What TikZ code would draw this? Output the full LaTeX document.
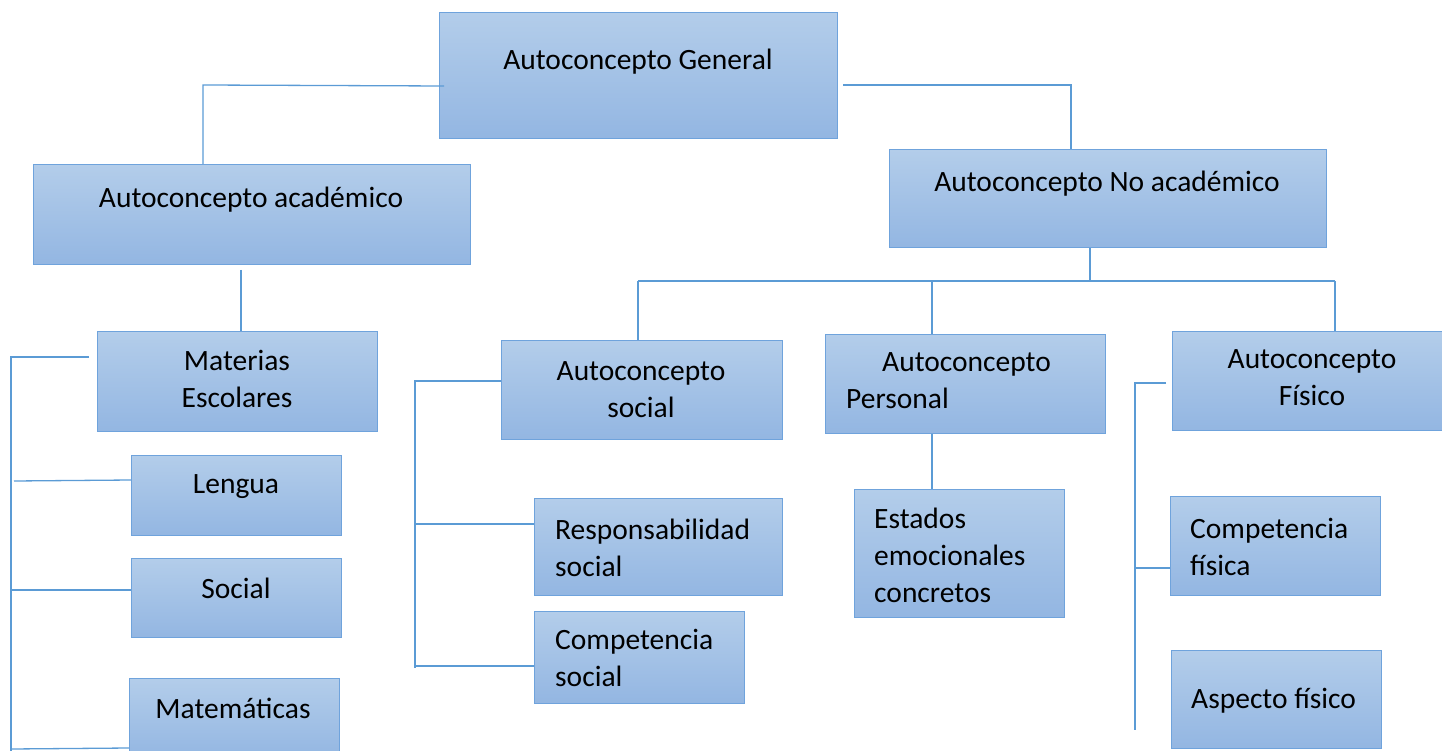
\documentclass[tikz,border=0pt]{standalone}
\usepackage{fontspec}
\setmainfont{Carlito}
\definecolor{linec}{HTML}{5B9BD5}
\definecolor{boxtop}{HTML}{B3CDEA}
\definecolor{boxbot}{HTML}{93B6E2}
\definecolor{boxedge}{HTML}{6FA3DC}
\begin{document}
\begin{tikzpicture}[x=1pt,y=-1pt,
  bx/.style={draw=boxedge,line width=1.4pt,top color=boxtop,bottom color=boxbot,
    rectangle,inner sep=0pt,anchor=north west},
  tx/.style={font=\fontsize{29.5}{37}\selectfont,inner sep=0pt,align=center},
  txl/.style={font=\fontsize{29.5}{37}\selectfont,inner sep=0pt,align=left,anchor=west},
  ln/.style={draw=linec,line width=1.3pt}]
\useasboundingbox (0,0) rectangle (1442,751);
% boxes
\node[bx,minimum width=398pt,minimum height=126pt] (gen) at (439,12) {};
\node[bx,minimum width=437pt,minimum height=100pt] (aca) at (33,164) {};
\node[bx,minimum width=437pt,minimum height=98pt] (noa) at (889,149) {};
\node[bx,minimum width=280pt,minimum height=100pt] (mat) at (97,331) {};
\node[bx,minimum width=210pt,minimum height=80pt] (len) at (131,455) {};
\node[bx,minimum width=210pt,minimum height=79pt] (soc) at (131,558) {};
\node[bx,minimum width=210pt,minimum height=80pt] (mte) at (129,678) {};
\node[bx,minimum width=281pt,minimum height=99pt] (asoc) at (501,340) {};
\node[bx,minimum width=248pt,minimum height=97pt] (resp) at (534,498) {};
\node[bx,minimum width=210pt,minimum height=92pt] (comp) at (534,611) {};
\node[bx,minimum width=280pt,minimum height=99pt] (pers) at (825,334) {};
\node[bx,minimum width=210pt,minimum height=128pt] (est) at (854,489) {};
\node[bx,minimum width=280pt,minimum height=99pt] (fis) at (1172,331) {};
\node[bx,minimum width=210pt,minimum height=99pt] (cfis) at (1170,496) {};
\node[bx,minimum width=210pt,minimum height=98pt] (asp) at (1171,650) {};
% texts
\node[tx] (tgen) at (638,62) {Autoconcepto General};
\node[tx] (taca) at (251,200) {Autoconcepto académico};
\node[tx] (tnoa) at (1107,184) {Autoconcepto No académico};
\node[tx] (tmat) at (237,379) {Materias\\Escolares};
\node[tx] (tlen) at (236,487) {Lengua};
\node[tx] (tsoc) at (236,588) {Social};
\node[tx] (tmte) at (233,708) {Matemáticas};
\node[tx] (tasoc) at (641,390) {Autoconcepto\\social};
\node[txl] (tresp) at (555,548) {Responsabilidad\\social};
\node[txl] (tcomp) at (555,658) {Competencia\\social};
\node[txl] (tpers) at (846,381) {\hspace*{36pt}Autoconcepto\\Personal};
\node[txl] (test) at (874,555) {Estados\\emocionales\\concretos};
\node[tx] (tfis) at (1312,378) {Autoconcepto\\Físico};
\node[txl] (tcfis) at (1190,547) {Competencia\\física};
\node[txl] (tasp) at (1191,701) {Aspecto físico};
% connectors
\coordinate (g1) at (444,86);
\coordinate (g2) at (843,85);
\draw[ln] (g1) -- (203,85) -- (aca.north -| 203,0);
\draw[ln] (g2) -- (1071,85) -- (noa.north -| 1071,0);
\coordinate (nb) at (1090,281);
\draw[ln] (noa.south -| nb) -- (nb);
\draw[ln] (638,281) -- (1335,281);
\draw[ln] (638,281) -- (asoc.north -| 638,0);
\draw[ln] (932,281) -- (pers.north -| 932,0);
\draw[ln] (1335,281) -- (fis.north -| 1335,0);
\coordinate (ab) at (241,270);
\draw[ln] (ab) -- (mat.north -| ab);
% materias bracket
\coordinate (m1) at (89,357);
\draw[ln] (m1) -- (11,357) -- (11,751);
\draw[ln] (14,481) -- (len.west |- 0,480);
\draw[ln] (11,590) -- (soc.west |- 0,590);
\draw[ln] (11,749) -- (mte.west |- 0,748);
% social bracket
\draw[ln] (asoc.west |- 0,381) -- (415,381) -- (415,668);
\draw[ln] (415,524) -- (resp.west |- 0,524);
\draw[ln] (415,666) -- (comp.west |- 0,666);
% personal
\draw[ln] (pers.south -| 932,0) -- (est.north -| 932,0);
% fisico bracket
\coordinate (f1) at (1166,383);
\draw[ln] (f1) -- (1135,383) -- (1135,730);
\draw[ln] (1135,568) -- (cfis.west |- 0,568);
\end{tikzpicture}
\end{document}
